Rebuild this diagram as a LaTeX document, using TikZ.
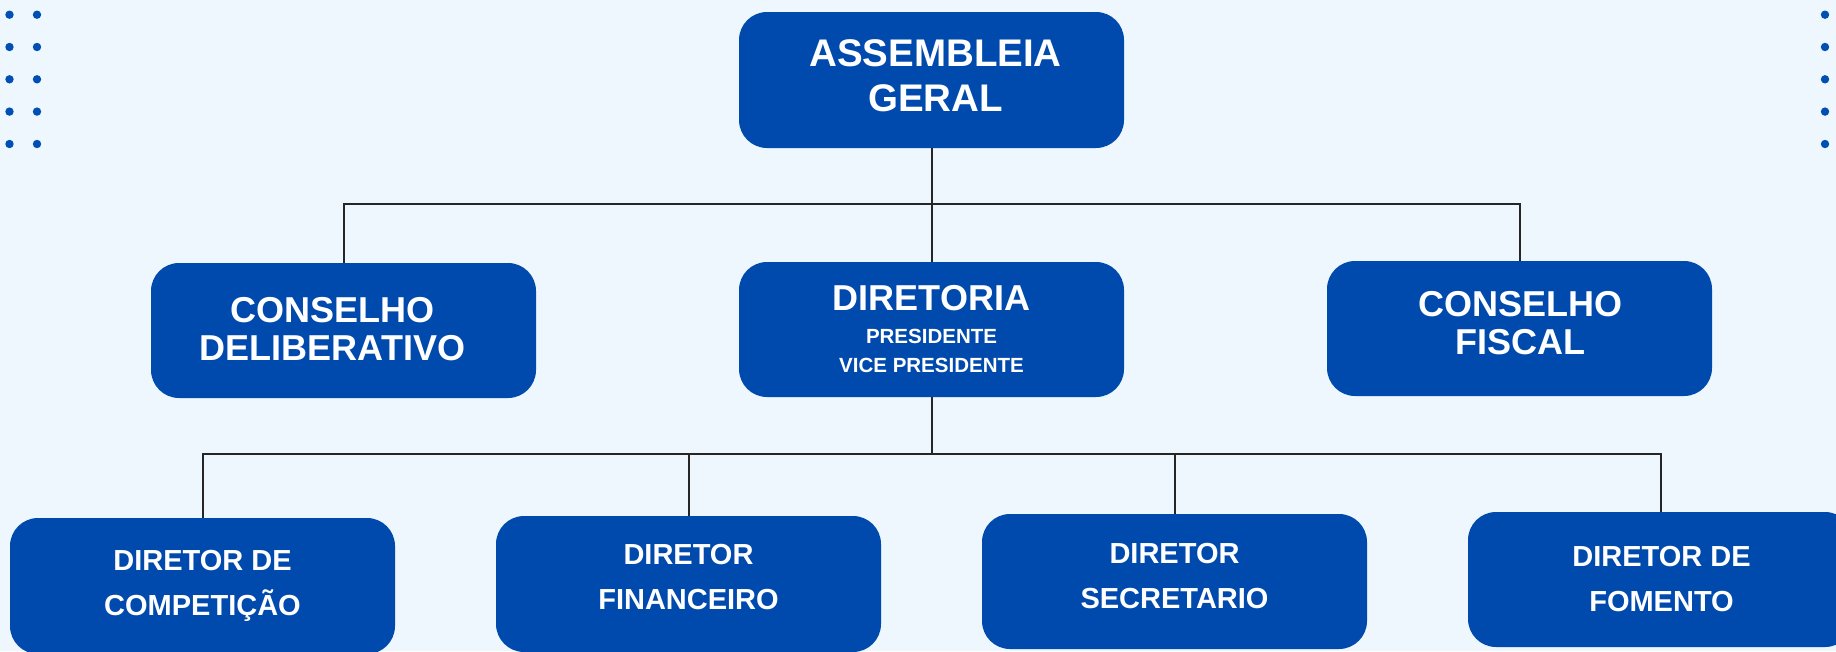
\documentclass[tikz,border=0pt]{standalone}
\usepackage{fontspec}
\setmainfont{Liberation Sans}
\definecolor{boxblue}{HTML}{004AAD}
\definecolor{dotblue}{HTML}{0050B3}
\definecolor{paper}{HTML}{EEF6FE}
\begin{document}
\begin{tikzpicture}[x=1pt,y=-1pt,
  orgbox/.style={shape=rectangle,fill=boxblue,rounded corners=28pt,minimum width=385pt,minimum height=136pt,inner sep=0pt},
  boxtext/.style={align=center,text=white,inner sep=0pt},
  bigtext/.style={boxtext,font=\fontsize{38.5}{45}\selectfont\bfseries},
  midtext/.style={boxtext,font=\fontsize{36}{38}\selectfont\bfseries},
  smalltext/.style={boxtext,font=\fontsize{29}{45}\selectfont\bfseries},
  link/.style={draw=black!85,line width=2pt}]
  \useasboundingbox (0,0) rectangle (1836,651);
  \fill[paper] (0,0) rectangle (1836,651);
  % decorative dots
  \foreach \y in {14.7,47,79.3,111.6,144} {
    \fill[dotblue] (9.5,\y) circle (4.2);
    \fill[dotblue] (37,\y) circle (4.2);
    \fill[dotblue] (1825,\y) circle (4.2);
  }
  % boxes
  \node [orgbox] (geral) at (931.5,80) {};
  \node [orgbox,minimum height=135pt] (delib) at (343.5,330.5) {};
  \node [orgbox,minimum height=135pt] (diretoria) at (931.5,329.5) {};
  \node [orgbox,minimum height=135pt] (fiscal) at (1519.5,328.5) {};
  \node [orgbox] (competicao) at (202.5,586) {};
  \node [orgbox] (financeiro) at (688.5,584) {};
  \node [orgbox,minimum height=135pt] (secretario) at (1174.5,581.5) {};
  \node [orgbox,minimum height=135pt] (fomento) at (1660.5,579.5) {};
  % texts
  \node [bigtext] (geraltext) at ([xshift=4pt,yshift=4pt]geral.center) {ASSEMBLEIA\\GERAL};
  \node [midtext] (delibtext) at ([xshift=-11pt,yshift=1pt]delib.center) {CONSELHO\\DELIBERATIVO};
  \node [boxtext,font=\fontsize{20.5}{29}\selectfont\bfseries] (diretoriatext) at (diretoria.center)
    {{\fontsize{36}{36}\selectfont DIRETORIA}\\[4pt]PRESIDENTE\\VICE PRESIDENTE};
  \node [midtext] (fiscaltext) at ([xshift=1pt,yshift=5pt]fiscal.center) {CONSELHO\\FISCAL};
  \node [smalltext] (competicaotext) at (competicao.center) {DIRETOR DE\\COMPETIÇÃO};
  \node [smalltext] (financeirotext) at ([yshift=7pt]financeiro.center) {DIRETOR\\FINANCEIRO};
  \node [smalltext] (secretariotext) at ([yshift=5pt]secretario.center) {DIRETOR\\SECRETARIO};
  \node [smalltext] (fomentotext) at ([xshift=1pt]fomento.center) {DIRETOR DE\\FOMENTO};
  % connectors
  \coordinate (upper) at (931.5,204);
  \coordinate (lower) at (931.5,454);
  \path[link] (geral.south) -- (upper) -| (delib.north)
              (upper) -| (fiscal.north)
              (upper) -- (diretoria.north);
  \path[link] (diretoria.south) -- (lower) -| (competicao.north)
              (lower) -| (financeiro.north)
              (lower) -| (secretario.north)
              (lower) -| (fomento.north);
\end{tikzpicture}
\end{document}
